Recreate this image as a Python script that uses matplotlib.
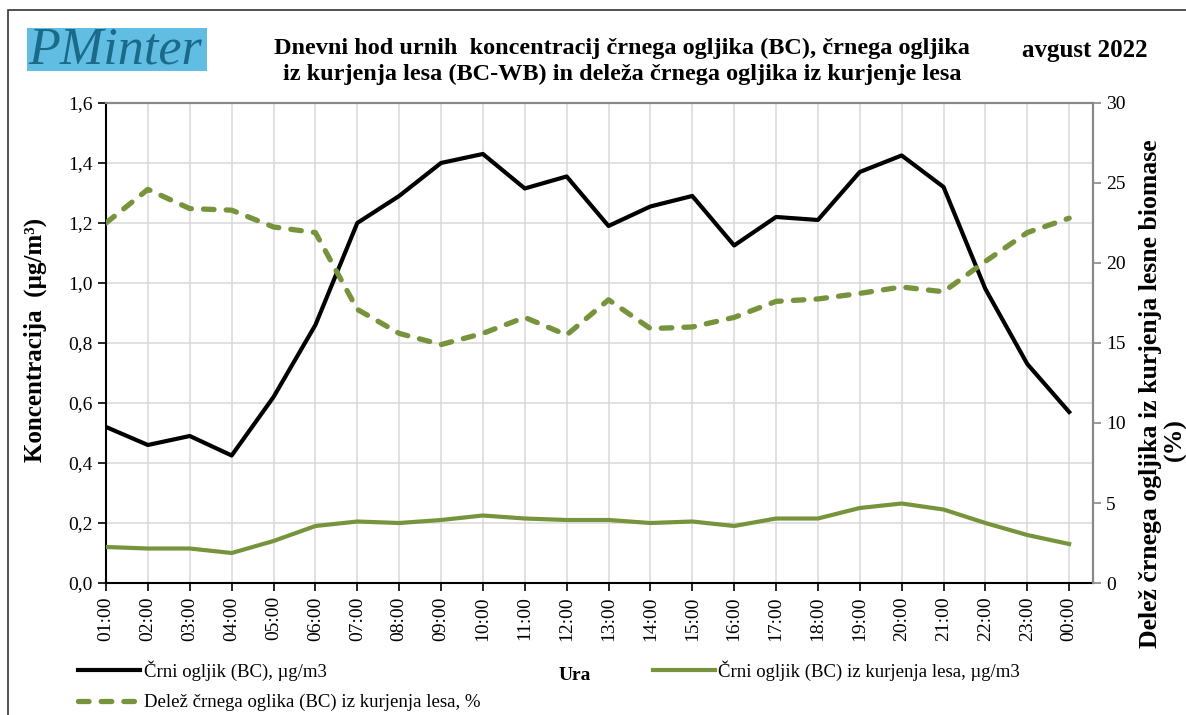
import matplotlib.pyplot as plt
from matplotlib.patches import Rectangle
from matplotlib.ticker import FuncFormatter, MultipleLocator

plt.rcParams['font.family'] = ['Liberation Serif', 'DejaVu Serif']

hours = ['01:00', '02:00', '03:00', '04:00', '05:00', '06:00', '07:00', '08:00',
         '09:00', '10:00', '11:00', '12:00', '13:00', '14:00', '15:00', '16:00',
         '17:00', '18:00', '19:00', '20:00', '21:00', '22:00', '23:00', '00:00']
bc = [0.52, 0.46, 0.49, 0.425, 0.62, 0.86, 1.20, 1.29, 1.40, 1.43, 1.315, 1.355,
      1.19, 1.255, 1.29, 1.125, 1.22, 1.21, 1.37, 1.425, 1.32, 0.98, 0.73, 0.57]
bc_wb = [0.12, 0.115, 0.115, 0.10, 0.14, 0.19, 0.205, 0.20, 0.21, 0.225, 0.215, 0.21,
         0.21, 0.20, 0.205, 0.19, 0.215, 0.215, 0.25, 0.265, 0.245, 0.20, 0.16, 0.13]
share_wb = [22.5, 24.6, 23.4, 23.3, 22.25, 21.9, 17.1, 15.6, 14.9, 15.6, 16.6, 15.5,
            17.7, 15.9, 16.0, 16.6, 17.6, 17.75, 18.1, 18.5, 18.2, 20.1, 21.9, 22.8]

green = '#77933C'
x = list(range(len(hours)))

fig = plt.figure(figsize=(11.86, 7.15), dpi=100)
ax = fig.add_axes([0.0894, 0.1846, 0.8322, 0.6714])
ax2 = ax.twinx()

ax.plot(x, bc, color='black', lw=3, label='Črni ogljik (BC), µg/m3', zorder=3)
ax.plot(x, bc_wb, color=green, lw=3, label='Črni ogljik (BC) iz kurjenja lesa, µg/m3',
        zorder=3)
ax2.plot(x, share_wb, color=green, lw=3.8, linestyle=(0, (2.0, 2.3)),
         dash_capstyle='round', label='Delež črnega oglika (BC) iz kurjenja lesa, %')

ax.set_xlim(0, 23.57)
ax.set_ylim(0, 1.6)
ax2.set_ylim(0, 30)
ax.yaxis.set_major_locator(MultipleLocator(0.2))
ax2.yaxis.set_major_locator(MultipleLocator(5))
ax.yaxis.set_major_formatter(FuncFormatter(lambda v, p: f'{v:.1f}'.replace('.', ',')))
ax.set_xticks(x)
ax.set_xticklabels(hours, rotation=90)

ax.grid(True, color='#d9d9d9', lw=1.1)
ax.set_axisbelow(True)

for s in ['top', 'right']:
    ax.spines[s].set_color('#888888')
    ax2.spines[s].set_color('#888888')
    ax.spines[s].set_linewidth(1.5)
    ax2.spines[s].set_linewidth(1.5)
ax.spines['left'].set_linewidth(1.5)
ax.spines['bottom'].set_linewidth(1.5)
ax2.spines['left'].set_visible(False)
ax2.spines['bottom'].set_visible(False)

ax.tick_params(axis='both', labelsize=14, width=1.2, length=6)
ax2.tick_params(axis='y', labelsize=14, width=1.2, length=6, color='#888888')

fig.text(35 / 1186, 1 - 340 / 715, 'Koncentracija  (µg/m³)', rotation=90,
         fontsize=18, fontweight='bold', ha='center', va='center')
fig.text(1150 / 1186, 0.449, 'Delež črnega ogljika iz kurjenja lesne biomase',
         rotation=90, fontsize=18.5, fontweight='bold', ha='center', va='center')
fig.text(1175 / 1186, 0.385, '(%)', rotation=90, fontsize=18.5, fontweight='bold',
         ha='center', va='center')

fig.text(622 / 1186, 1 - 61 / 715,
         'Dnevni hod urnih  koncentracij črnega ogljika (BC), črnega ogljika\n'
         'iz kurjenja lesa (BC-WB) in deleža črnega ogljika iz kurjenje lesa',
         ha='center', va='center', fontsize=17.5, fontweight='bold', linespacing=1.3)
fig.text(1085 / 1186, 1 - 50 / 715, 'avgust 2022', ha='center', va='center',
         fontsize=18, fontweight='bold')

# logo
fig.patches.append(Rectangle((27 / 1186, 1 - 71 / 715), 180 / 1186, 43 / 715,
                             transform=fig.transFigure, facecolor='#62BDE2',
                             edgecolor='none'))
fig.text(28 / 1186, 1 - 50 / 715, 'PMinter', fontsize=37.5, style='italic',
         color='#1A6A8A', ha='left', va='center')

# outer frame
fig.patches.append(Rectangle((8 / 1186, -0.01), 1.0, 1 - 10 / 715 + 0.01,
                             transform=fig.transFigure, facecolor='none',
                             edgecolor='#333333', lw=1.2))

fig.text(575 / 1186, 1 - 675 / 715, 'Ura', ha='center', va='center', fontsize=14,
         fontweight='bold')

h1, l1 = ax.get_legend_handles_labels()
h2, l2 = ax2.get_legend_handles_labels()
fig.legend([h1[0], h2[0], h1[1]], [l1[0], l2[0], l1[1]], ncol=2, frameon=False,
           loc='upper left', bbox_to_anchor=(78 / 1186, 1 - 660 / 715),
           borderaxespad=0, borderpad=0, fontsize=13.5, handlelength=3.3,
           handletextpad=0.2, labelspacing=0.72, columnspacing=9.2)

fig.savefig('out.png', dpi=100)
